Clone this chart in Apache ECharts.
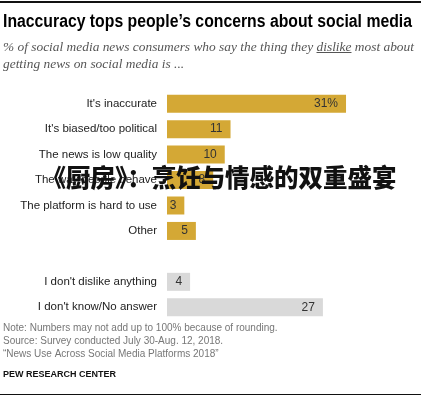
<!DOCTYPE html>
<html>
<head>
<meta charset="utf-8">
<script src="https://cdn.jsdelivr.net/npm/echarts@6/dist/echarts.min.js"></script>
<style>
  html, body {margin: 0; padding: 0; background: #fff;}
  #main {width: 422px; height: 397px;}
</style>
</head>
<body>
<div id="main"></div>
<script>
// categories top to bottom, '' is the spacer row between the two groups
var categories = ["It's inaccurate", "It's biased/too political", 'The news is low quality',
    'The way people behave', 'The platform is hard to use', 'Other', '',
    "I don't dislike anything", "I don't know/No answer"];
var values = [31, 11, 10, 8, 3, 5, null, 4, 27];
// rows drawn in grey
var neutral = ["I don't dislike anything", "I don't know/No answer"];

var gold = '#d4a835';
var grey = '#d9d9d9';

var barData = [];
for (var i = 0; i < categories.length; i++) {
    barData.push({
        value: values[i] == null ? '-' : values[i],
        itemStyle: {color: neutral.indexOf(categories[i]) >= 0 ? grey : gold}
    });
}

var ctx = document.createElement('canvas').getContext('2d');

// title is squeezed a bit to look like a condensed face
var titleText = 'Inaccuracy tops people\u2019s concerns about social media';
var titleFont = 'bold 17.5px "Liberation Sans", Arial, sans-serif';
ctx.font = titleFont;
var titleScale = 409 / ctx.measureText(titleText).width;

// subtitle, "dislike" gets underlined
var subFont = 'italic 13.4px "Liberation Serif", Georgia, serif';
var subPre = '% of social media news consumers who say the thing they ';
ctx.font = subFont;
var ulX = 3 + ctx.measureText(subPre).width;
var ulW = ctx.measureText('dislike').width;

var myChart = echarts.init(document.getElementById('main'));
myChart.setOption({
    animation: false,
    grid: {left: 167, right: 24, top: 91, bottom: 77},
    xAxis: {
        type: 'value', min: 0, max: 40,
        show: false
    },
    yAxis: {
        type: 'category',
        inverse: true,
        data: categories,
        axisLine: {show: false},
        axisTick: {show: false},
        axisLabel: {
            margin: 10,
            color: '#222',
            fontSize: 11.5,
            fontFamily: 'Liberation Sans, Arial, sans-serif'
        }
    },
    series: [{
        type: 'bar',
        data: barData,
        barWidth: 18,
        label: {
            show: true,
            position: 'insideRight',
            distance: 8,
            color: '#333',
            fontSize: 12,
            fontFamily: 'Liberation Sans, Arial, sans-serif',
            formatter: function (p) {
                return p.dataIndex === 0 ? p.value + '%' : p.value;
            }
        }
    }],
    graphic: [
        {type: 'rect', shape: {x: 0, y: 1, width: 421, height: 2}, style: {fill: '#111'}},
        {type: 'text', x: 3, y: 13, scaleX: titleScale, style: {
            text: titleText, font: titleFont, fill: '#000'}},
        {type: 'text', left: 3, top: 39, style: {
            text: subPre + 'dislike most about\ngetting news on social media is ...',
            font: subFont, fill: '#555', lineHeight: 17}},
        {type: 'rect', shape: {x: ulX, y: 52, width: ulW, height: 1}, style: {fill: '#555'}},
        {type: 'text', left: 3, top: 322, style: {
            text: 'Note: Numbers may not add up to 100% because of rounding.\nSource: Survey conducted July 30-Aug. 12, 2018.\n\u201cNews Use Across Social Media Platforms 2018\u201d',
            font: '10px "Liberation Sans", Arial, sans-serif', fill: '#777', lineHeight: 13}},
        {type: 'text', left: 3, top: 370, style: {
            text: 'PEW RESEARCH CENTER',
            font: 'bold 9px "Liberation Sans", Arial, sans-serif', fill: '#111'}},
        {type: 'rect', shape: {x: 0, y: 394, width: 421, height: 1}, style: {fill: '#111'}},
        {type: 'text', x: 219, y: 178, z: 100, style: {
            text: '《厨房》：烹饪与情感的双重盛宴',
            font: '900 24.5px "Noto Sans CJK SC", sans-serif', fill: '#111',
            align: 'center', verticalAlign: 'middle'}}
    ]
});
</script>
</body>
</html>
